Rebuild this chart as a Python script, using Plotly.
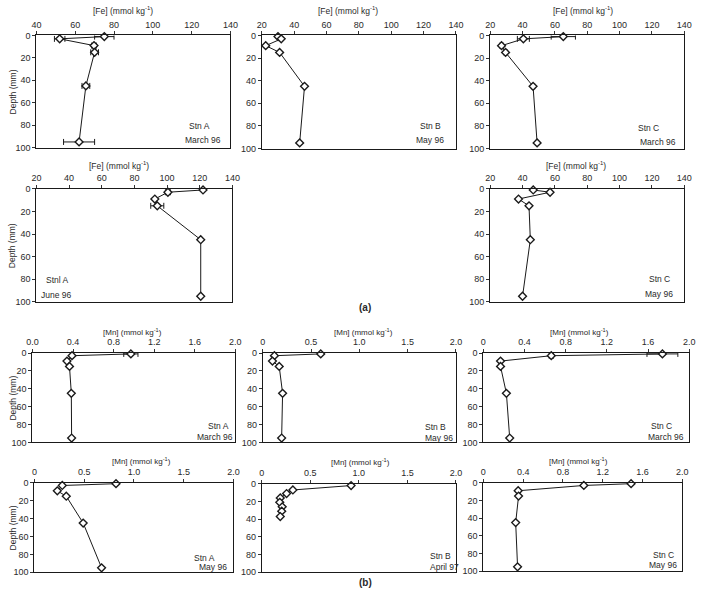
import plotly.graph_objects as go

W, H = 706, 593

# ---------------- data ----------------
depth_std = [1, 3, 9, 15, 45, 95]
depth_b_apr97 = [2, 7, 11, 16, 21, 26, 31, 37]

fe_a_mar96 = [75, 52, 69.7, 70, 65.5, 62]
fe_a_mar96_err = [5, 2.7, 1.2, 2, 2, 8]
fe_b_may96 = [30, 32, 22.4, 31, 46.4, 43.4]
fe_c_mar96 = [65.2, 40.5, 27, 29.5, 46.5, 49]
fe_c_mar96_err = [7.5, 3.7, 1, 1, 1, 0.8]
fe_a_jun96 = [122, 100.5, 92.5, 94, 120.6, 120.6]
fe_a_jun96_err = [0, 1.5, 0, 4, 0, 0]
fe_c_may96 = [46.6, 57, 37.5, 44, 44.8, 40]

mn_a_mar96 = [0.97, 0.39, 0.34, 0.365, 0.383, 0.386]
mn_a_mar96_err = [0.07, 0.01, 0, 0, 0, 0]
mn_b_may96 = [0.6, 0.12, 0.1, 0.17, 0.205, 0.195]
mn_c_mar96 = [1.74, 0.66, 0.167, 0.167, 0.224, 0.256]
mn_c_mar96_err = [0.15, 0.02, 0, 0, 0, 0]
mn_a_may96 = [0.82, 0.28, 0.23, 0.32, 0.49, 0.675]
mn_b_apr97 = [0.92, 0.32, 0.255, 0.19, 0.185, 0.21, 0.205, 0.19]
mn_c_may96 = [1.485, 1.01, 0.35, 0.354, 0.325, 0.344]

depth_ticks = [0, 20, 40, 60, 80, 100]
fe_ticks_a = [40, 60, 80, 100, 120, 140]
fe_ticks = [20, 40, 60, 80, 100, 120, 140]
mn_ticks_04 = [0, 0.4, 0.8, 1.2, 1.6, 2.0]
mn_ticks_05 = [0, 0.5, 1.0, 1.5, 2.0]

FE_TITLE = "[Fe] (mmol kg<sup>-1</sup>)"
MN_TITLE = "[Mn] (mmol kg<sup>-1</sup>)"

panels = [
    (fe_a_mar96, depth_std, fe_a_mar96_err, [40, 140], fe_ticks_a, [str(v) for v in fe_ticks_a],
     (31, 229, 31, 145), FE_TITLE, (119, 6), ("Stn A", "March 96"), (197, 123, 201, 137), True),
    (fe_b_may96, depth_std, None, [20, 140], fe_ticks, [str(v) for v in fe_ticks],
     (261, 459, 31, 146), FE_TITLE, (349, 6), ("Stn B", "May 96"), (433, 123, 433, 137), False),
    (fe_c_mar96, depth_std, fe_c_mar96_err, [20, 140], fe_ticks, [str(v) for v in fe_ticks],
     (494, 692, 31, 146), FE_TITLE, (589, 6), ("Stn C", "March 96"), (656, 125, 665, 139), False),
    (fe_a_jun96, depth_std, fe_a_jun96_err, [20, 140], fe_ticks, [str(v) for v in fe_ticks],
     (31, 231, 187, 302), FE_TITLE, (115, 163), ("Stnl A", "June 96"), (53, 280, 52, 295), True),
    (fe_c_may96, depth_std, None, [20, 140], fe_ticks, [str(v) for v in fe_ticks],
     (494, 692, 187, 302), FE_TITLE, (582, 163), ("Stn C", "May 96"), (667, 279, 666, 294), False),
    (mn_a_mar96, depth_std, mn_a_mar96_err, [0, 2], mn_ticks_04, ["0.0", "0.4", "0.8", "1.2", "1.6", "2.0"],
     (27, 234, 354, 445), MN_TITLE, (129, 333), ("Stn A", "March 96"), (217, 428, 213, 439), True),
    (mn_b_may96, depth_std, None, [0, 2], mn_ticks_05, ["0", "0.5", "1.0", "1.5", "2.0"],
     (262, 459, 354, 445), MN_TITLE, (365, 333), ("Stn B", "May 96"), (438, 429, 442, 440), False),
    (mn_c_mar96, depth_std, mn_c_mar96_err, [0, 2], mn_ticks_04, ["0", "0.4", "0.8", "1.2", "1.6", "2.0"],
     (487, 697, 354, 445), MN_TITLE, (585, 333), ("Stn C", "March 96"), (669, 428, 673, 439), False),
    (mn_a_may96, depth_std, None, [0, 2], mn_ticks_05, ["0", "0.5", "1.0", "1.5", "2.0"],
     (29, 232, 486, 577), MN_TITLE, (138, 464), ("Stn A", "May 96"), (203, 562, 211, 572), True),
    (mn_b_apr97, depth_b_apr97, None, [0, 2], mn_ticks_05, ["0", "0.5", "1.0", "1.5", "2.0"],
     (261, 459, 487, 577), MN_TITLE, (362, 465), ("Stn B", "April 97"), (443, 560, 447, 572), False),
    (mn_c_may96, depth_std, None, [0, 2], mn_ticks_04, ["0", "0.4", "0.8", "1.2", "1.6", "2.0"],
     (487, 690, 486, 576), MN_TITLE, (584, 464), ("Stn C", "May 96"), (671, 559, 670, 570), False),
]

FONT = "Liberation Sans, Arial, sans-serif"
TXT = "#2a2a2a"

fig = go.Figure()
layout = dict(
    width=W, height=H, margin=dict(l=0, r=0, t=0, b=0),
    paper_bgcolor="white", plot_bgcolor="white", showlegend=False,
    font=dict(family=FONT, size=9, color=TXT),
)
annotations = []


def px(x):
    return x / W


def py(y):
    return 1 - y / H


for i, (vals, dep, err, xr, tv, tt, box, title, tpos, lab, lpos, ylab) in enumerate(panels):
    n = i + 1
    xa = "xaxis" if n == 1 else f"xaxis{n}"
    ya = "yaxis" if n == 1 else f"yaxis{n}"
    xref = "x" if n == 1 else f"x{n}"
    yref = "y" if n == 1 else f"y{n}"
    l, r, t, b = box
    tr = dict(
        x=vals, y=dep, xaxis=xref, yaxis=yref, mode="lines+markers",
        line=dict(color="#1a1a1a", width=1),
        marker=dict(symbol="diamond", size=6, color="white",
                    line=dict(color="#1a1a1a", width=1.4)),
        cliponaxis=False,
    )
    if err is not None:
        tr["error_x"] = dict(type="data", array=err, visible=True,
                             color="#1a1a1a", thickness=1, width=3)
    fig.add_trace(go.Scatter(**tr))
    layout[xa] = dict(
        domain=[px(l), px(r)], anchor=yref, side="top", range=xr,
        tickvals=tv, ticktext=tt, ticks="outside", ticklen=3,
        tickcolor="#333", showline=True, linecolor="#1a1a1a", linewidth=1.2,
        mirror=True, showgrid=False, zeroline=False,
        tickfont=dict(size=9, color=TXT, family=FONT), fixedrange=True,
    )
    layout[ya] = dict(
        domain=[py(b), py(t)], anchor=xref, range=[100, 0],
        tickvals=depth_ticks, ticks="outside", ticklen=3, tickcolor="#333",
        showline=True, linecolor="#1a1a1a", linewidth=1.2, mirror=True,
        showgrid=False, zeroline=False,
        tickfont=dict(size=9, color=TXT, family=FONT), fixedrange=True,
    )
    tsize = 8.5 if title == FE_TITLE else 8
    annotations.append(dict(x=px(tpos[0]), y=py(tpos[1]), xref="paper", yref="paper",
                            text=title, showarrow=False, xanchor="center", yanchor="middle",
                            font=dict(size=tsize, color=TXT)))
    annotations.append(dict(x=px(lpos[0]), y=py(lpos[1]), xref="paper", yref="paper",
                            text=lab[0], showarrow=False, xanchor="center", yanchor="middle",
                            font=dict(size=8.5, color=TXT)))
    annotations.append(dict(x=px(lpos[2]), y=py(lpos[3]), xref="paper", yref="paper",
                            text=lab[1], showarrow=False, xanchor="center", yanchor="middle",
                            font=dict(size=8.5, color=TXT)))
    if ylab:
        annotations.append(dict(x=px(7), y=py((t + b) / 2), xref="paper", yref="paper",
                                text="Depth (mm)", showarrow=False, textangle=-90,
                                xanchor="center", yanchor="middle",
                                font=dict(size=8.5, color=TXT)))

annotations.append(dict(x=px(366), y=py(308), xref="paper", yref="paper", text="<b>(a)</b>",
                        showarrow=False, font=dict(size=10, color=TXT)))
annotations.append(dict(x=px(367), y=py(580), xref="paper", yref="paper", text="<b>(b)</b>",
                        showarrow=False, yanchor="top", font=dict(size=10, color=TXT)))

layout["annotations"] = annotations
fig.update_layout(**layout)
fig.write_html("out.html")
